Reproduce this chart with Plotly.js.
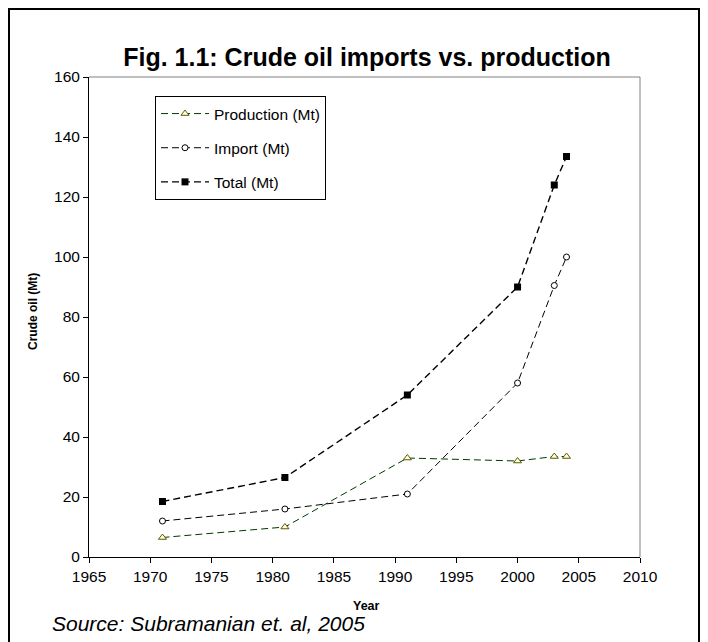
<!DOCTYPE html>
<html><head><meta charset="utf-8">
<script src="https://cdn.plot.ly/plotly-3.0.1.min.js"></script>
<style>html,body{margin:0;padding:0;background:#fff}#chart{width:708px;height:642px}</style>
</head><body><div id="chart"></div>
<script>
const years = [1971, 1981, 1991, 2000, 2003, 2004];
const production = [6.5, 10, 33, 32, 33.5, 33.5];
const imports = [12, 16, 21, 58, 90.5, 100];
const total = [18.5, 26.5, 54, 90, 124, 133.5];
const seriesNames = ['Production (Mt)', 'Import (Mt)', 'Total (Mt)'];

const F = 'Arial, "Liberation Sans", sans-serif';
const L = 89, R = 640, T = 77, B = 557;
const W = R - L, H = B - T;
const px = v => (v - L) / W;
const py = v => (B - v) / H;

const traces = [
  {x: years, y: production, name: seriesNames[0], type: 'scatter', mode: 'lines+markers', legendgroup: 'a',
   line: {color: '#003a00', width: 1, dash: '7px,4px'},
   marker: {symbol: 'triangle-up', size: 7, color: '#ffffe0', line: {color: '#5a5a00', width: 1}}},
  {x: years, y: imports, name: seriesNames[1], type: 'scatter', mode: 'lines+markers', legendgroup: 'b',
   line: {color: '#000', width: 1, dash: '7px,4px'},
   marker: {symbol: 'circle', size: 6, color: '#fff', line: {color: '#000', width: 1}}},
  {x: years, y: total, name: seriesNames[2], type: 'scatter', mode: 'lines+markers', legendgroup: 'c',
   line: {color: '#000', width: 1.4, dash: '7px,4px'},
   marker: {symbol: 'square', size: 7, color: '#000', line: {color: '#000', width: 0}}}
];
const layout = {
  width: 708, height: 642,
  margin: {l: L, r: 708 - R, t: T, b: 642 - B},
  paper_bgcolor: '#fff', plot_bgcolor: '#fff',
  font: {family: F, color: '#000', size: 15},
  title: {text: '<b>Fig. 1.1: Crude oil imports vs. production</b>', font: {family: F, size: 25, color: '#000'},
          x: 367/708, xanchor: 'center', y: 1 - 57/642, yanchor: 'middle'},
  xaxis: {range: [1965, 2010], dtick: 5, tick0: 1965, showgrid: false, zeroline: false,
          showline: true, linecolor: '#000', linewidth: 1, ticks: 'outside', ticklen: 5, tickcolor: '#000',
          tickfont: {family: F, size: 15.5, color: '#000'}},
  yaxis: {range: [0, 160], dtick: 20, showgrid: false, zeroline: false,
          showline: true, linecolor: '#000', linewidth: 1, ticks: 'outside', ticklen: 5, tickcolor: '#000',
          tickfont: {family: F, size: 15.5, color: '#000'}},
  showlegend: true,
  legend: {x: px(155), y: py(96), xanchor: 'left', yanchor: 'top', bgcolor: '#fff', bordercolor: '#000', borderwidth: 1,
           font: {family: F, size: 15.5, color: '#000'}, traceorder: 'grouped', tracegroupgap: 11, itemwidth: 48},
  shapes: [
    {type: 'line', xref: 'paper', yref: 'paper', x0: 0, x1: 1, y0: 1, y1: 1, line: {color: '#808080', width: 1}},
    {type: 'line', xref: 'paper', yref: 'paper', x0: 1, x1: 1, y0: 0, y1: 1, line: {color: '#808080', width: 1}},
    {type: 'rect', xref: 'paper', yref: 'paper', x0: px(9), x1: px(699), y0: py(660), y1: py(9),
     line: {color: '#000', width: 2}}
  ],
  annotations: [
    {text: '<b>Crude oil (Mt)</b>', xref: 'paper', yref: 'paper', x: px(33), y: py(312), textangle: -90,
     showarrow: false, font: {family: F, size: 12, color: '#000'}, xanchor: 'center', yanchor: 'middle'},
    {text: '<b>Year</b>', xref: 'paper', yref: 'paper', x: px(366), y: py(606),
     showarrow: false, font: {family: F, size: 12.5, color: '#000'}, xanchor: 'center', yanchor: 'middle'},
    {text: '<i>Source: Subramanian et. al, 2005</i>', xref: 'paper', yref: 'paper', x: px(50), y: py(623),
     showarrow: false, font: {family: F, size: 21, color: '#000'}, xanchor: 'left', yanchor: 'middle'}
  ]
};
Plotly.newPlot('chart', traces, layout, {displayModeBar: false, staticPlot: true});
</script></body></html>
